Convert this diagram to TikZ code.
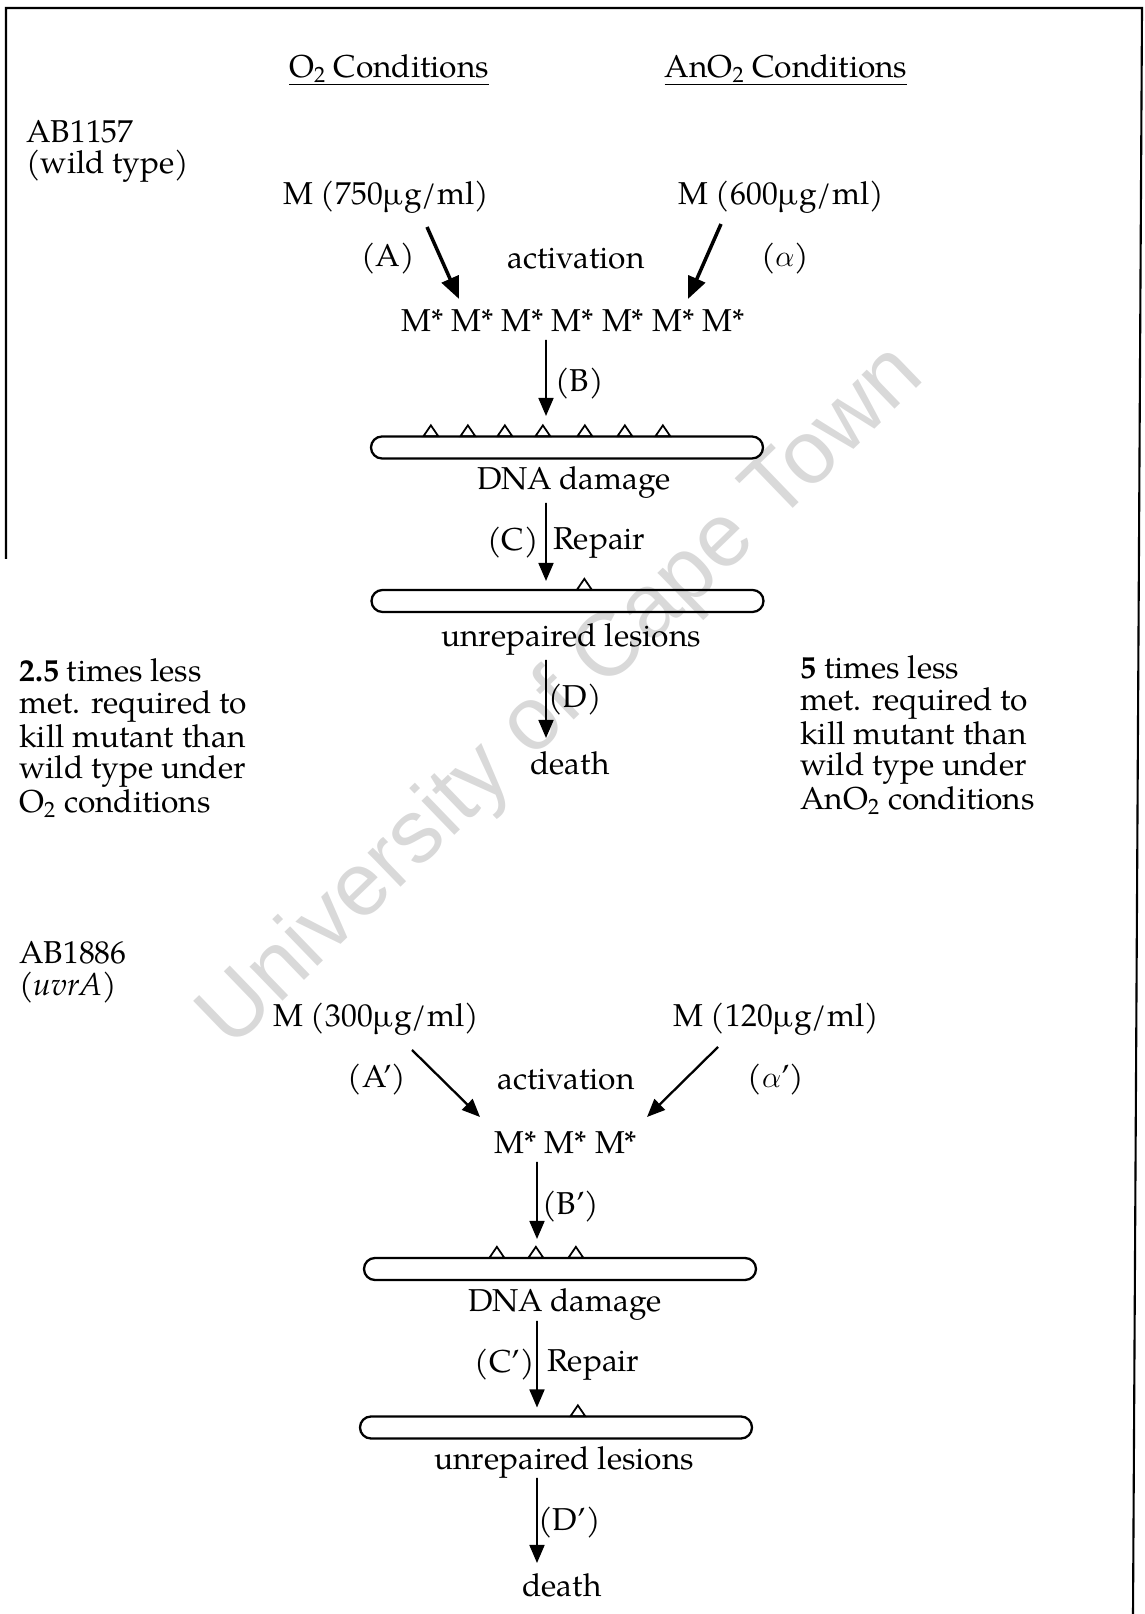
\documentclass[tikz,border=0pt]{standalone}
\usepackage{fontspec}
\setmainfont{TeX Gyre Pagella}
\newfontfamily\wmfont{Liberation Sans}
\usetikzlibrary{arrows.meta}

\begin{document}
\begin{tikzpicture}[
  txt/.style={font=\fontsize{18}{18}\selectfont, inner sep=0pt},
  side/.style={txt, align=left, anchor=west},
  dna/.style={draw, line width=1.3pt, rounded corners=0.22cm,
    minimum width=7.84cm, minimum height=0.44cm, inner sep=0pt},
  lesion/.style={draw, line width=1pt},
  arr/.style={-{Triangle[length=0.36cm, width=0.30cm]}, line width=#1},
  arr/.default=1pt,
  bigarr/.style={-{Triangle[length=0.44cm, width=0.36cm]}, line width=#1},
  bigarr/.default=2pt,
  frame/.style={line width=1.2pt},
]
\useasboundingbox (0,0) rectangle (22.88,32.28);

% --- Watermark and frame ---
\node[font=\wmfont\fontsize{51}{51}\selectfont, text=black!15, rotate=44]
  (wm) at (11.26,18.32) {University of Cape Town};
\draw[frame] (0.12,21.1) -- (0.12,32.12) -- (22.84,32.12) -- (22.66,0);

% --- Column heads ---
\node[txt] (hO2) at (7.78,30.88) {\underline{O\textsubscript{2} Conditions}};
\node[txt] (hAn) at (15.72,30.88) {\underline{AnO\textsubscript{2} Conditions}};

% --- Wild type ---
\node[side] (ab1) at (0.52,29.25) {AB1157\\(wild type)};

\node[txt] (mO2)   at (7.72,28.34)  {M (750\symbol{"B5}g/ml)};
\node[txt] (mAn)   at (15.62,28.34) {M (600\symbol{"B5}g/ml)};
\node[txt] (lA)    at (7.76,27.10)  {(A)};
\node[txt] (act1)  at (11.52,27.10) {activation};
\node[txt] (lal)   at (15.70,27.10) {($\alpha$)};
\node[txt] (mstar1) at (11.46,25.86) {M* M* M* M* M* M* M*};

\draw[bigarr] ([shift={(0.82,-0.60)}]mO2.center) -- ([shift={(-2.28,0.44)}]mstar1.center);
\draw[bigarr] ([shift={(-1.20,-0.54)}]mAn.center) -- ([shift={(2.30,0.44)}]mstar1.center);

\node[dna] (dna1) at (11.34,23.33) {};
\foreach \dx in {1.22,1.96,2.70,3.46,4.30,5.10,5.86}
  \draw[lesion] ([xshift=\dx cm, yshift=-0.02cm]dna1.north west) ++(-0.15,0) -- ++(0.30,0) -- ++(-0.15,0.22) -- cycle;
\draw[arr] ([shift={(-0.54,-0.38)}]mstar1.center) -- ([shift={(-0.42,0.63)}]dna1.center);
\node[txt, anchor=west] (lB) at (11.10,24.60) {(B)};
\node[txt] (dmg1) at (11.48,22.63) {DNA damage};

\node[dna] (dna2) at (11.35,20.26) {};
\draw[lesion] ([xshift=4.28cm, yshift=-0.02cm]dna2.north west) ++(-0.15,0) -- ++(0.30,0) -- ++(-0.15,0.22) -- cycle;
\draw[arr] ([shift={(-0.56,-0.41)}]dmg1.center) -- ([shift={(-0.43,0.40)}]dna2.center);
\node[txt, anchor=east] (lC)   at (10.78,21.42) {(C)};
\node[txt, anchor=west] (rep1) at (11.06,21.42) {Repair};
\node[txt] (unr1) at (11.42,19.50) {unrepaired lesions};

\node[txt] (death1) at (11.40,17.02) {death};
\draw[arr] ([shift={(-0.50,-0.42)}]unr1.center) -- ([shift={(-0.48,0.50)}]death1.center);
\node[txt, anchor=west] (lD) at (10.96,18.28) {(D)};

% --- Comparison notes ---
\node[side] (less1) at (0.38,17.52)
  {\textbf{2.5} times less\\met. required to\\kill mutant than\\wild type under\\O\textsubscript{2} conditions};
\node[side] (less2) at (16.00,17.58)
  {\textbf{5} times less\\met. required to\\kill mutant than\\wild type under\\AnO\textsubscript{2} conditions};

% --- uvrA mutant ---
\node[side] (ab2) at (0.38,12.83) {AB1886\\(\textit{uvrA})};

\node[txt] (mO2b)   at (7.52,11.90)  {M (300\symbol{"B5}g/ml)};
\node[txt] (mAnb)   at (15.52,11.90) {M (120\symbol{"B5}g/ml)};
\node[txt] (lA2)    at (7.54,10.68)  {(A')};
\node[txt] (act2)   at (11.32,10.68) {activation};
\node[txt] (lal2)   at (15.52,10.68) {($\alpha$')};
\node[txt] (mstar2) at (11.32,9.42)  {M* M* M*};

\draw[arr=1.3pt] ([shift={(0.72,-0.62)}]mO2b.center) -- ([shift={(-1.72,0.52)}]mstar2.center);
\draw[arr=1.3pt] ([shift={(-1.16,-0.56)}]mAnb.center) -- ([shift={(1.62,0.52)}]mstar2.center);

\node[dna] (dna3) at (11.20,6.90) {};
\foreach \dx in {2.68,3.46,4.26}
  \draw[lesion] ([xshift=\dx cm, yshift=-0.02cm]dna3.north west) ++(-0.15,0) -- ++(0.30,0) -- ++(-0.15,0.22) -- cycle;
\draw[arr] ([shift={(-0.58,-0.38)}]mstar2.center) -- ([shift={(-0.46,0.60)}]dna3.center);
\node[txt, anchor=west] (lB2) at (10.84,8.14) {(B')};
\node[txt] (dmg2) at (11.30,6.20) {DNA damage};

\node[dna] (dna4) at (11.12,3.73) {};
\draw[lesion] ([xshift=4.38cm, yshift=-0.02cm]dna4.north west) ++(-0.15,0) -- ++(0.30,0) -- ++(-0.15,0.22) -- cycle;
\draw[arr] ([shift={(-0.56,-0.34)}]dmg2.center) -- ([shift={(-0.38,0.40)}]dna4.center);
\node[txt, anchor=east] (lC2)  at (10.70,4.98) {(C')};
\node[txt, anchor=west] (rep2) at (10.94,4.98) {Repair};
\node[txt] (unr2) at (11.28,3.04) {unrepaired lesions};

\node[txt] (death2) at (11.24,0.58) {death};
\draw[arr] ([shift={(-0.54,-0.32)}]unr2.center) -- ([shift={(-0.50,0.44)}]death2.center);
\node[txt, anchor=west] (lD2) at (10.76,1.82) {(D')};

\end{tikzpicture}
\end{document}
